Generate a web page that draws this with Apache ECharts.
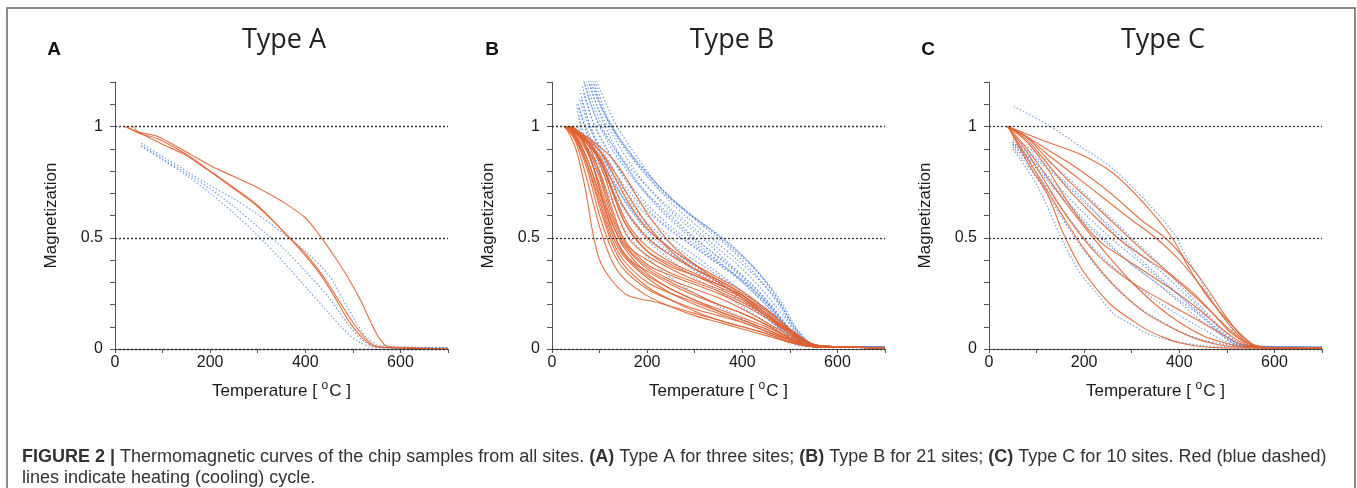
<!DOCTYPE html>
<html><head><meta charset="utf-8">
<script src="https://cdn.jsdelivr.net/npm/echarts@6/dist/echarts.min.js"></script>
<style>html,body{margin:0;padding:0;background:#fff}#c{width:1357px;height:488px}</style>
</head><body><div id="c"></div>
<script>
// ---------- text ----------
const panelTitles = ['Type A', 'Type B', 'Type C'];
const panelLetters = ['A', 'B', 'C'];
const xAxisName = 'Temperature [ {sup|o}C ]';
const yAxisName = 'Magnetization';
const xTickLabels = [0, 200, 400, 600];
const yTickLabels = [0, 0.5, 1];
const refLines = [1, 0.5, 0];
const captionLine1 = '{b|FIGURE 2 |} Thermomagnetic curves of the chip samples from all sites. {b|(A)} Type A for three sites; {b|(B)} Type B for 21 sites; {b|(C)} Type C for 10 sites. Red (blue dashed)';
const captionLine2 = 'lines indicate heating (cooling) cycle.';

// ---------- data: [temperature °C, normalized magnetization] ----------
const typeA_heating = [
  [[20,1.0],[50,0.975],[90,0.955],[150,0.885],[200,0.825],[250,0.775],[300,0.725],[350,0.665],[400,0.59],[432,0.505],[460,0.42],[490,0.32],[516,0.22],[540,0.11],[555,0.05],[572,0.012],[620,0.005],[700,0.0]],
  [[38,1.0],[50,0.975],[95,0.925],[150,0.87],[194,0.806],[250,0.72],[300,0.64],[358,0.52],[400,0.42],[430,0.34],[460,0.24],[490,0.13],[520,0.05],[545,0.012],[600,0.005],[700,0.0]],
  [[25,1.0],[50,0.97],[90,0.945],[150,0.875],[200,0.80],[250,0.725],[300,0.645],[362,0.51],[400,0.43],[440,0.32],[470,0.22],[500,0.12],[530,0.04],[555,0.01],[600,0.005],[700,0.0]]
];
const typeA_cooling = [
  [[55,0.925],[100,0.865],[150,0.80],[200,0.735],[250,0.675],[300,0.605],[350,0.525],[400,0.44],[450,0.33],[480,0.22],[510,0.11],[530,0.05],[560,0.015],[600,0.01],[700,0.005]],
  [[55,0.915],[100,0.855],[150,0.79],[200,0.72],[250,0.64],[300,0.55],[350,0.46],[400,0.35],[450,0.23],[490,0.11],[520,0.04],[550,0.01],[600,0.005],[700,0.005]],
  [[55,0.91],[100,0.85],[150,0.78],[200,0.70],[250,0.61],[300,0.51],[350,0.40],[400,0.28],[450,0.16],[480,0.09],[510,0.035],[540,0.01],[600,0.005],[700,0.005]]
];

const typeB_heating = [
  [[28,1],[50,0.9],[70,0.72],[86,0.52],[100,0.40],[125,0.31],[160,0.24],[220,0.21],[300,0.16],[350,0.13],[400,0.10],[450,0.07],[500,0.03],[550,0.01],[600,0.008],[700,0.005]],
  [[30,1],[50,0.93],[75,0.75],[100,0.55],[125,0.40],[150,0.32],[200,0.24],[250,0.19],[300,0.15],[350,0.12],[400,0.09],[450,0.06],[500,0.03],[550,0.01],[600,0.008],[700,0.005]],
  [[32,1],[50,0.94],[75,0.8],[100,0.6],[125,0.45],[150,0.36],[200,0.27],[250,0.22],[300,0.18],[350,0.15],[400,0.12],[450,0.08],[500,0.04],[550,0.01],[600,0.008],[700,0.005]],
  [[35,1],[50,0.95],[75,0.83],[100,0.66],[125,0.5],[150,0.4],[200,0.3],[250,0.25],[300,0.21],[350,0.17],[400,0.13],[450,0.09],[500,0.045],[550,0.012],[600,0.008],[700,0.005]],
  [[30,1],[50,0.96],[75,0.85],[100,0.7],[125,0.55],[150,0.43],[200,0.33],[250,0.27],[300,0.22],[350,0.18],[400,0.14],[450,0.1],[500,0.05],[550,0.012],[600,0.01],[700,0.005]],
  [[40,1],[60,0.95],[80,0.86],[100,0.72],[125,0.57],[150,0.47],[200,0.36],[250,0.3],[300,0.25],[350,0.2],[400,0.16],[450,0.11],[500,0.05],[550,0.015],[600,0.01],[700,0.005]],
  [[35,1],[55,0.96],[80,0.88],[100,0.77],[125,0.6],[150,0.48],[200,0.37],[250,0.31],[300,0.27],[350,0.23],[400,0.18],[450,0.12],[500,0.06],[550,0.015],[600,0.01],[700,0.005]],
  [[30,1],[50,0.97],[75,0.9],[100,0.8],[125,0.64],[150,0.5],[200,0.38],[250,0.33],[300,0.29],[350,0.25],[400,0.2],[450,0.14],[500,0.07],[550,0.02],[600,0.01],[700,0.005]],
  [[38,1],[60,0.96],[85,0.88],[110,0.72],[135,0.56],[160,0.46],[200,0.4],[250,0.34],[300,0.3],[350,0.26],[400,0.21],[450,0.15],[500,0.07],[550,0.02],[600,0.01],[700,0.005]],
  [[42,1],[60,0.97],[85,0.9],[110,0.78],[135,0.62],[160,0.5],[200,0.42],[250,0.36],[300,0.31],[350,0.27],[400,0.22],[450,0.15],[500,0.08],[550,0.02],[600,0.01],[700,0.005]],
  [[30,1],[50,0.97],[75,0.92],[100,0.85],[125,0.72],[150,0.58],[200,0.44],[250,0.37],[300,0.33],[350,0.28],[400,0.23],[450,0.16],[500,0.08],[550,0.02],[600,0.01],[700,0.005]],
  [[35,1],[55,0.97],[80,0.92],[105,0.84],[130,0.7],[160,0.56],[200,0.46],[250,0.39],[300,0.34],[350,0.29],[400,0.24],[450,0.17],[500,0.085],[550,0.02],[600,0.01],[700,0.005]],
  [[28,1],[50,0.97],[75,0.93],[100,0.87],[125,0.76],[150,0.64],[200,0.5],[250,0.42],[300,0.36],[350,0.31],[400,0.25],[450,0.18],[500,0.09],[550,0.02],[600,0.01],[700,0.005]],
  [[40,1],[60,0.97],[85,0.93],[110,0.86],[135,0.76],[160,0.66],[200,0.54],[250,0.45],[300,0.38],[350,0.32],[400,0.26],[450,0.18],[500,0.09],[550,0.02],[600,0.01],[700,0.005]],
  [[30,1],[50,0.98],[73,0.955],[100,0.91],[116,0.88],[140,0.82],[158,0.76],[200,0.61],[255,0.46],[300,0.38],[326,0.34],[396,0.25],[466,0.13],[508,0.055],[537,0.02],[600,0.01],[700,0.005]],
  [[35,1],[55,0.97],[80,0.93],[105,0.88],[130,0.8],[160,0.69],[200,0.56],[250,0.44],[300,0.36],[350,0.3],[400,0.23],[450,0.15],[500,0.07],[550,0.02],[600,0.01],[700,0.005]],
  [[30,1],[50,0.96],[75,0.88],[100,0.74],[125,0.58],[150,0.46],[200,0.34],[250,0.27],[300,0.22],[350,0.17],[400,0.13],[450,0.09],[500,0.04],[550,0.01],[600,0.008],[700,0.005]],
  [[25,1],[50,0.94],[75,0.82],[100,0.64],[125,0.48],[150,0.38],[200,0.28],[250,0.22],[300,0.17],[350,0.13],[400,0.1],[450,0.07],[500,0.03],[550,0.01],[600,0.008],[700,0.005]],
  [[45,1],[65,0.94],[90,0.8],[115,0.6],[140,0.47],[170,0.39],[200,0.35],[250,0.29],[300,0.24],[350,0.2],[400,0.16],[450,0.11],[500,0.05],[550,0.012],[600,0.01],[700,0.005]],
  [[32,1],[50,0.95],[75,0.85],[100,0.68],[125,0.52],[150,0.42],[200,0.32],[250,0.25],[300,0.2],[350,0.16],[400,0.12],[450,0.08],[500,0.035],[550,0.01],[600,0.008],[700,0.005]],
  [[38,1],[60,0.97],[85,0.91],[110,0.8],[135,0.66],[160,0.54],[200,0.44],[250,0.38],[300,0.33],[350,0.29],[400,0.24],[450,0.16],[500,0.08],[550,0.02],[600,0.01],[700,0.005]]
];
const typeB_cooling = [
  [[86,1.25],[100,1.17],[137,1.0],[180,0.86],[221,0.74],[260,0.66],[300,0.59],[340,0.53],[370,0.48],[423,0.37],[466,0.25],[508,0.1],[537,0.03],[560,0.012],[600,0.01],[700,0.008]],
  [[60,1.25],[80,1.11],[101,1.0],[150,0.85],[200,0.73],[250,0.63],[300,0.54],[350,0.45],[400,0.36],[440,0.27],[475,0.18],[510,0.08],[540,0.025],[560,0.012],[600,0.01],[700,0.008]],
  [[65,1.25],[90,1.08],[115,0.96],[150,0.84],[200,0.7],[250,0.6],[300,0.5],[350,0.41],[400,0.32],[450,0.21],[490,0.11],[520,0.04],[550,0.015],[600,0.01],[700,0.008]],
  [[70,1.25],[95,1.09],[125,0.97],[175,0.8],[225,0.67],[275,0.57],[325,0.48],[375,0.38],[425,0.28],[465,0.18],[500,0.09],[530,0.03],[560,0.012],[600,0.01],[700,0.008]],
  [[75,1.22],[100,1.06],[130,0.92],[175,0.76],[225,0.63],[275,0.53],[325,0.44],[375,0.35],[425,0.25],[470,0.15],[505,0.07],[535,0.02],[570,0.01],[700,0.008]],
  [[55,1.1],[75,0.98],[100,0.88],[150,0.72],[200,0.6],[250,0.5],[300,0.42],[350,0.34],[400,0.26],[450,0.17],[490,0.08],[520,0.03],[560,0.01],[700,0.008]],
  [[52,1.1],[66,0.94],[90,0.82],[116,0.71],[158,0.52],[221,0.37],[270,0.29],[326,0.22],[380,0.16],[431,0.1],[470,0.055],[501,0.025],[540,0.01],[700,0.008]],
  [[60,1.15],[80,1.0],[110,0.85],[150,0.68],[200,0.55],[250,0.45],[300,0.37],[350,0.3],[400,0.22],[450,0.14],[490,0.07],[520,0.025],[560,0.01],[700,0.008]],
  [[58,1.08],[75,0.96],[100,0.85],[130,0.72],[170,0.58],[220,0.47],[270,0.4],[320,0.33],[370,0.27],[420,0.2],[460,0.13],[500,0.06],[530,0.02],[570,0.01],[700,0.008]],
  [[62,1.12],[85,0.98],[110,0.88],[150,0.74],[200,0.62],[250,0.53],[300,0.46],[350,0.38],[400,0.3],[450,0.2],[490,0.1],[520,0.035],[560,0.012],[700,0.008]],
  [[80,1.25],[110,1.06],[140,0.95],[180,0.83],[230,0.71],[280,0.62],[330,0.53],[380,0.44],[430,0.33],[470,0.22],[505,0.1],[535,0.03],[570,0.012],[700,0.008]],
  [[68,1.2],[90,1.05],[120,0.92],[165,0.78],[215,0.66],[265,0.56],[315,0.47],[365,0.39],[415,0.3],[460,0.2],[500,0.09],[530,0.03],[565,0.012],[700,0.008]],
  [[56,1.05],[70,0.95],[95,0.86],[125,0.76],[160,0.64],[200,0.53],[250,0.43],[300,0.35],[350,0.28],[400,0.21],[450,0.14],[490,0.07],[520,0.025],[560,0.01],[700,0.008]],
  [[54,1.0],[70,0.92],[95,0.84],[125,0.72],[160,0.6],[200,0.49],[250,0.4],[300,0.32],[350,0.26],[400,0.19],[450,0.12],[490,0.06],[520,0.02],[560,0.01],[700,0.008]],
  [[72,1.25],[100,1.1],[135,0.97],[180,0.84],[230,0.72],[280,0.62],[330,0.54],[380,0.45],[430,0.35],[470,0.24],[510,0.1],[540,0.03],[570,0.012],[700,0.008]],
  [[64,1.18],[85,1.03],[110,0.92],[150,0.78],[200,0.65],[250,0.55],[300,0.47],[350,0.39],[400,0.31],[450,0.21],[490,0.11],[525,0.035],[560,0.012],[700,0.008]],
  [[58,1.12],[78,1.0],[105,0.88],[140,0.74],[185,0.6],[235,0.5],[285,0.42],[335,0.35],[385,0.28],[435,0.2],[475,0.12],[510,0.05],[540,0.015],[700,0.008]],
  [[66,1.15],[90,1.0],[120,0.88],[160,0.74],[210,0.61],[260,0.52],[310,0.44],[360,0.37],[410,0.29],[455,0.2],[495,0.1],[525,0.035],[560,0.012],[700,0.008]],
  [[76,1.25],[105,1.08],[140,0.94],[190,0.8],[240,0.68],[290,0.58],[340,0.49],[390,0.4],[440,0.3],[480,0.2],[515,0.08],[545,0.025],[580,0.01],[700,0.008]],
  [[56,1.08],[74,0.97],[100,0.86],[135,0.73],[175,0.6],[225,0.49],[275,0.41],[325,0.34],[375,0.27],[425,0.19],[470,0.11],[505,0.045],[540,0.012],[700,0.008]],
  [[84,1.25],[115,1.05],[150,0.92],[200,0.79],[250,0.68],[300,0.59],[350,0.51],[400,0.42],[440,0.33],[480,0.22],[515,0.09],[545,0.025],[580,0.01],[700,0.008]]
];

const typeC_heating = [
  [[40,1],[75,0.97],[122,0.93],[192,0.875],[261,0.79],[332,0.64],[388,0.49],[416,0.38],[459,0.235],[501,0.13],[535,0.055],[560,0.015],[600,0.005],[700,0.003]],
  [[40,1],[75,0.96],[120,0.9],[180,0.82],[250,0.71],[320,0.58],[370,0.5],[410,0.41],[450,0.3],[490,0.17],[525,0.07],[555,0.02],[600,0.005],[700,0.003]],
  [[38,1],[75,0.96],[120,0.88],[180,0.78],[240,0.68],[300,0.58],[350,0.5],[400,0.4],[450,0.27],[490,0.15],[525,0.06],[555,0.015],[600,0.005],[700,0.003]],
  [[40,1],[80,0.95],[120,0.86],[170,0.75],[220,0.65],[280,0.53],[330,0.43],[380,0.34],[430,0.25],[480,0.14],[520,0.06],[555,0.015],[600,0.005],[700,0.003]],
  [[40,1],[80,0.94],[120,0.84],[170,0.71],[220,0.6],[270,0.5],[320,0.42],[370,0.35],[420,0.26],[470,0.16],[510,0.07],[550,0.02],[600,0.005],[700,0.003]],
  [[40,1],[80,0.93],[120,0.82],[160,0.68],[200,0.56],[240,0.47],[290,0.4],[340,0.33],[390,0.26],[440,0.18],[490,0.09],[530,0.03],[570,0.008],[700,0.003]],
  [[38,1],[75,0.9],[110,0.78],[150,0.64],[190,0.52],[230,0.42],[280,0.33],[330,0.26],[380,0.2],[430,0.14],[480,0.08],[520,0.03],[560,0.008],[700,0.003]],
  [[40,1],[86,0.82],[122,0.7],[156,0.52],[192,0.37],[230,0.26],[261,0.19],[300,0.13],[332,0.086],[370,0.05],[402,0.027],[450,0.01],[500,0.005],[700,0.003]],
  [[40,1],[80,0.86],[120,0.72],[160,0.58],[200,0.45],[240,0.34],[280,0.25],[330,0.16],[380,0.1],[430,0.05],[480,0.02],[530,0.008],[600,0.004],[700,0.003]],
  [[40,1],[80,0.9],[120,0.78],[160,0.66],[200,0.55],[250,0.42],[300,0.3],[350,0.2],[400,0.12],[450,0.06],[500,0.025],[540,0.01],[600,0.004],[700,0.003]]
];
const typeC_cooling = [
  [[52,1.09],[122,1.01],[192,0.91],[261,0.81],[332,0.66],[388,0.52],[416,0.41],[444,0.31],[472,0.21],[500,0.12],[525,0.05],[550,0.015],[600,0.008],[700,0.008]],
  [[50,0.95],[100,0.88],[150,0.8],[200,0.7],[250,0.6],[300,0.5],[350,0.4],[400,0.29],[450,0.18],[490,0.09],[520,0.035],[550,0.012],[600,0.008],[700,0.008]],
  [[50,0.93],[100,0.85],[150,0.76],[200,0.66],[250,0.56],[300,0.46],[350,0.37],[400,0.27],[450,0.17],[490,0.08],[520,0.03],[550,0.01],[600,0.008],[700,0.008]],
  [[50,0.93],[100,0.83],[150,0.72],[200,0.61],[250,0.51],[300,0.42],[350,0.33],[400,0.24],[450,0.15],[490,0.07],[520,0.025],[550,0.01],[700,0.008]],
  [[50,0.92],[100,0.81],[150,0.69],[200,0.57],[250,0.47],[300,0.38],[350,0.3],[400,0.21],[450,0.12],[490,0.06],[520,0.02],[550,0.01],[700,0.008]],
  [[50,0.92],[100,0.79],[150,0.64],[200,0.5],[250,0.39],[300,0.3],[350,0.22],[400,0.15],[450,0.09],[490,0.04],[530,0.015],[700,0.008]],
  [[50,0.9],[100,0.74],[156,0.48],[192,0.34],[230,0.24],[261,0.16],[300,0.11],[332,0.07],[370,0.045],[402,0.03],[450,0.015],[500,0.01],[700,0.008]],
  [[50,0.91],[100,0.77],[150,0.6],[200,0.44],[250,0.31],[300,0.21],[350,0.14],[400,0.08],[450,0.04],[500,0.02],[550,0.01],[700,0.008]],
  [[50,0.94],[100,0.86],[150,0.77],[200,0.67],[250,0.55],[300,0.44],[350,0.34],[400,0.24],[450,0.14],[490,0.06],[520,0.02],[700,0.008]],
  [[50,0.93],[100,0.82],[150,0.7],[200,0.58],[250,0.48],[300,0.38],[350,0.3],[400,0.22],[450,0.14],[490,0.07],[530,0.02],[700,0.008]]
];

// ---------- layout / style ----------
const panels = [
  { heat: typeA_heating, cool: typeA_cooling },
  { heat: typeB_heating, cool: typeB_cooling },
  { heat: typeC_heating, cool: typeC_cooling }
];
const gridLefts = [115, 552, 989];
const titleCenters = [279, 727, 1158];
const letterCenters = [49, 487, 923];
const gridTop = 82, gridW = 333, gridH = 267;
const SANS = 'Liberation Sans, Arial, Helvetica, sans-serif';
const RED = '#e0602f';
const BLUE = '#4a80e6';
const AXIS = '#555';

const grids = [], xAxes = [], yAxes = [], series = [], titles = [];
panels.forEach((p, i) => {
  grids.push({ left: gridLefts[i], top: gridTop, width: gridW, height: gridH, containLabel: false });
  xAxes.push({
    gridIndex: i, type: 'value', min: 0, max: 700, interval: 100,
    name: xAxisName, nameLocation: 'middle', nameGap: 31,
    nameTextStyle: { fontFamily: SANS, fontSize: 17, color: '#1a1a1a', lineHeight: 22,
      rich: { sup: { fontFamily: SANS, fontSize: 12, color: '#1a1a1a', verticalAlign: 'top', lineHeight: 12, padding: [0, 1, 0, 0] } } },
    axisLine: { show: true, lineStyle: { color: AXIS, width: 1 } },
    axisTick: { show: true, length: 4, lineStyle: { color: AXIS } },
    splitLine: { show: false },
    axisLabel: { fontFamily: SANS, fontSize: 16, color: '#1a1a1a', margin: 6,
      formatter: v => (xTickLabels.indexOf(v) >= 0 ? String(v) : '') }
  });
  yAxes.push({
    gridIndex: i, type: 'value', min: 0, max: 1.2, interval: 0.1,
    name: yAxisName, nameLocation: 'middle', nameGap: 55, nameRotate: 90,
    nameTextStyle: { fontFamily: SANS, fontSize: 17, color: '#1a1a1a' },
    axisLine: { show: true, lineStyle: { color: AXIS, width: 1 } },
    axisTick: { show: true, length: 5, lineStyle: { color: AXIS } },
    splitLine: { show: false },
    axisLabel: { fontFamily: SANS, fontSize: 16, color: '#1a1a1a', margin: 12,
      formatter: v => { for (const t of yTickLabels) { if (Math.abs(v - t) < 1e-6) return String(t); } return ''; } }
  });
  // reference dotted lines
  series.push({
    type: 'line', xAxisIndex: i, yAxisIndex: i, data: [], silent: true, z: 1,
    markLine: { silent: true, symbol: ['none', 'none'], label: { show: false }, animation: false,
      lineStyle: { type: [2, 2], color: '#333', width: 1.3 },
      data: refLines.map(v => ({ yAxis: v })) }
  });
  p.cool.forEach(c => series.push({
    type: 'line', xAxisIndex: i, yAxisIndex: i, data: c, smooth: 0.3,
    showSymbol: false, symbol: 'none', silent: true, z: 2, animation: false,
    lineStyle: { color: BLUE, width: 1.1, type: [1.5, 2], opacity: 0.8 }
  }));
  p.heat.forEach(c => series.push({
    type: 'line', xAxisIndex: i, yAxisIndex: i, data: c, smooth: 0.3,
    showSymbol: false, symbol: 'none', silent: true, z: 3, animation: false,
    lineStyle: { color: RED, width: 1.1, opacity: 0.9 }
  }));
  titles.push({ text: panelTitles[i], left: titleCenters[i], top: 22, textAlign: 'center',
    textStyle: { fontFamily: 'Open Sans, Lato, sans-serif', fontSize: 27, fontWeight: 'normal', color: '#222' } });
  titles.push({ text: panelLetters[i], left: letterCenters[i], top: 35, textAlign: 'center',
    textStyle: { fontFamily: SANS, fontSize: 19, fontWeight: 'bold', color: '#111' } });
});

titles.push({
  text: captionLine1 + '\n' + captionLine2, left: 17, top: 442,
  textStyle: { fontFamily: SANS, fontSize: 18, fontWeight: 'normal', color: '#333', lineHeight: 21,
    rich: { b: { fontFamily: SANS, fontSize: 18, fontWeight: 'bold', color: '#333', lineHeight: 21 } } }
});

const chart = echarts.init(document.getElementById('c'), null, { renderer: 'canvas' });
chart.setOption({
  backgroundColor: '#fff',
  animation: false,
  title: titles,
  grid: grids,
  xAxis: xAxes,
  yAxis: yAxes,
  series: series,
  graphic: [{ type: 'rect', shape: { x: 7, y: 8, width: 1348, height: 500 }, z: 100, silent: true,
    style: { fill: 'none', stroke: '#666', lineWidth: 1.5 } }]
});
</script></body></html>
